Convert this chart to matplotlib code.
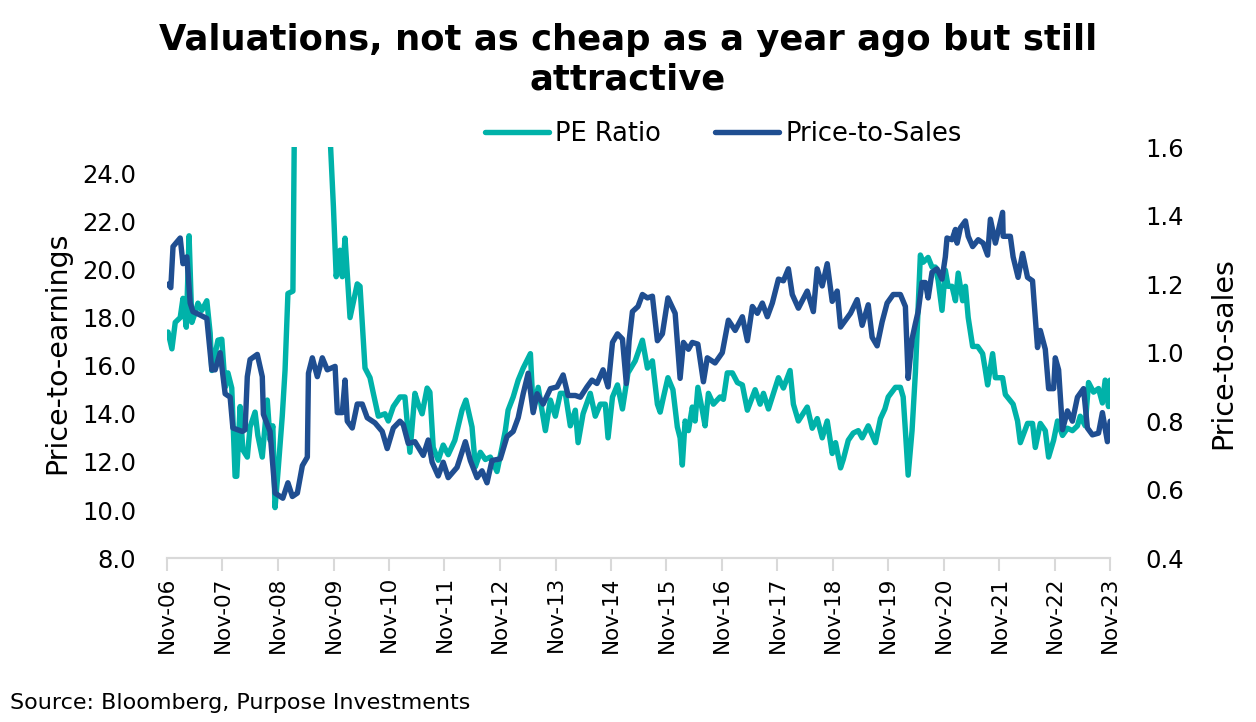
import matplotlib
matplotlib.use("Agg")
import matplotlib.pyplot as plt
import numpy as np
import pandas as pd

# PE ratio (left axis), dates as decimal years
pe_years = [2006.85, 2006.92, 2006.98, 2007.07, 2007.12, 2007.18, 2007.23, 2007.28, 2007.34, 2007.39,
            2007.46, 2007.55, 2007.61, 2007.64, 2007.75, 2007.82, 2007.88, 2007.93, 2008.00, 2008.06,
            2008.09, 2008.15, 2008.20, 2008.28, 2008.33, 2008.42, 2008.47, 2008.55, 2008.64, 2008.69,
            2008.74, 2008.78, 2008.83, 2008.91, 2008.96, 2009.01, 2009.10, 2009.18, 2009.41, 2009.61,
            2009.74, 2009.83, 2009.88, 2009.95, 2009.99, 2010.04, 2010.13, 2010.26, 2010.31, 2010.40,
            2010.49, 2010.55, 2010.64, 2010.76, 2010.82, 2010.91, 2011.03, 2011.12, 2011.21, 2011.30,
            2011.36, 2011.43, 2011.52, 2011.57, 2011.63, 2011.72, 2011.81, 2011.90, 2012.02, 2012.15,
            2012.22, 2012.33, 2012.39, 2012.48, 2012.57, 2012.66, 2012.78, 2012.87, 2012.93, 2012.98,
            2013.07, 2013.16, 2013.25, 2013.38, 2013.43, 2013.52, 2013.65, 2013.74, 2013.83, 2013.92,
            2014.01, 2014.10, 2014.19, 2014.24, 2014.33, 2014.46, 2014.55, 2014.64, 2014.73, 2014.78,
            2014.86, 2014.95, 2015.04, 2015.14, 2015.27, 2015.40, 2015.49, 2015.58, 2015.67, 2015.72,
            2015.78, 2015.86, 2015.95, 2016.03, 2016.08, 2016.12, 2016.17, 2016.23, 2016.30, 2016.35,
            2016.40, 2016.48, 2016.53, 2016.59, 2016.68, 2016.80, 2016.86, 2016.93, 2017.02, 2017.11,
            2017.20, 2017.29, 2017.38, 2017.43, 2017.52, 2017.58, 2017.67, 2017.76, 2017.85, 2017.94,
            2018.06, 2018.12, 2018.21, 2018.37, 2018.46, 2018.55, 2018.64, 2018.73, 2018.82, 2018.88,
            2018.97, 2019.02, 2019.11, 2019.20, 2019.29, 2019.36, 2019.47, 2019.60, 2019.69, 2019.77,
            2019.83, 2019.96, 2020.05, 2020.10, 2020.14, 2020.19, 2020.26, 2020.32, 2020.41, 2020.46,
            2020.55, 2020.62, 2020.68, 2020.73, 2020.80, 2020.86, 2020.91, 2020.98, 2021.04, 2021.09,
            2021.17, 2021.22, 2021.27, 2021.35, 2021.44, 2021.53, 2021.58, 2021.62, 2021.71, 2021.76,
            2021.89, 2021.94, 2022.08, 2022.16, 2022.21, 2022.34, 2022.43, 2022.48, 2022.57, 2022.66,
            2022.72, 2022.81, 2022.88, 2022.97, 2023.06, 2023.15, 2023.24, 2023.29, 2023.38, 2023.44,
            2023.53, 2023.62, 2023.69, 2023.74, 2023.80, 2023.83]
pe_values = [17.4, 16.7, 17.8, 18.0, 18.8, 17.6, 21.4, 17.8, 18.2, 18.6,
             18.3, 18.7, 17.35, 15.8, 17.06, 17.1, 15.1, 15.7, 15.07, 11.4,
             11.4, 14.3, 12.5, 12.2, 13.45, 14.07, 13.1, 12.2, 14.57, 12.9,
             13.5, 10.1, 11.5, 13.9, 15.8, 19.0, 19.1, 40.0, 90.0, 45.0,
             27.0, 22.6, 19.7, 20.8, 19.7, 21.3, 18.0, 19.4, 19.3, 15.9,
             15.5, 14.85, 13.9, 14.0, 13.7, 14.3, 14.7, 14.7, 12.4, 14.85,
             14.4, 14.0, 15.07, 14.9, 12.6, 12.07, 12.7, 12.3, 12.9, 14.15,
             14.57, 13.45, 11.8, 12.4, 12.1, 12.2, 11.6, 12.6, 13.3, 14.15,
             14.7, 15.4, 15.9, 16.5, 14.15, 15.1, 13.3, 14.57, 13.9, 14.85,
             14.85, 13.5, 14.15, 12.8, 14.0, 14.85, 13.9, 14.4, 14.4, 13.0,
             14.7, 15.2, 14.2, 15.7, 16.2, 17.06, 15.9, 16.2, 14.4, 14.07,
             14.7, 15.5, 15.0, 13.45, 13.0, 11.87, 13.7, 13.3, 14.28, 13.7,
             15.1, 14.15, 13.5, 14.85, 14.4, 14.7, 14.6, 15.7, 15.7, 15.3,
             15.2, 14.15, 14.7, 15.0, 14.4, 14.85, 14.2, 14.85, 15.5, 15.07,
             15.8, 14.4, 13.7, 14.28, 13.4, 13.8, 13.0, 13.7, 12.35, 12.8,
             11.75, 12.1, 12.9, 13.2, 13.3, 13.0, 13.5, 12.8, 13.8, 14.2,
             14.7, 15.1, 15.1, 14.7, 13.3, 11.45, 13.3, 15.7, 20.6, 20.3,
             20.5, 20.1, 20.1, 19.55, 18.3, 19.97, 19.3, 19.3, 18.7, 19.85,
             18.7, 19.3, 18.0, 16.8, 16.8, 16.5, 15.8, 15.2, 16.5, 15.5,
             15.5, 14.8, 14.4, 13.7, 12.8, 13.6, 13.6, 12.6, 13.6, 13.3,
             12.2, 12.9, 13.7, 13.1, 13.4, 13.3, 13.5, 13.9, 13.5, 15.3,
             14.9, 15.05, 14.45, 15.4, 14.3, 15.4]

# Price-to-sales (right axis)
ps_years = [2006.85, 2006.90, 2006.94, 2007.07, 2007.12, 2007.19, 2007.25, 2007.30, 2007.43, 2007.55,
            2007.64, 2007.70, 2007.79, 2007.88, 2007.97, 2008.02, 2008.19, 2008.24, 2008.28, 2008.33,
            2008.46, 2008.55, 2008.57, 2008.69, 2008.78, 2008.92, 2009.01, 2009.09, 2009.18, 2009.27,
            2009.36, 2009.38, 2009.45, 2009.54, 2009.63, 2009.72, 2009.86, 2009.90, 2009.99, 2010.04,
            2010.08, 2010.17, 2010.26, 2010.35, 2010.44, 2010.58, 2010.71, 2010.80, 2010.91, 2011.03,
            2011.09, 2011.18, 2011.30, 2011.45, 2011.54, 2011.61, 2011.72, 2011.81, 2011.90, 2012.06,
            2012.21, 2012.30, 2012.42, 2012.51, 2012.60, 2012.69, 2012.84, 2012.96, 2013.07, 2013.16,
            2013.25, 2013.34, 2013.43, 2013.50, 2013.61, 2013.74, 2013.86, 2013.97, 2014.06, 2014.19,
            2014.28, 2014.40, 2014.49, 2014.58, 2014.69, 2014.78, 2014.86, 2014.95, 2015.04, 2015.11,
            2015.16, 2015.22, 2015.32, 2015.40, 2015.49, 2015.58, 2015.67, 2015.76, 2015.86, 2015.99,
            2016.08, 2016.14, 2016.23, 2016.30, 2016.40, 2016.50, 2016.57, 2016.71, 2016.84, 2016.95,
            2017.07, 2017.20, 2017.29, 2017.38, 2017.47, 2017.56, 2017.65, 2017.74, 2017.85, 2017.94,
            2018.03, 2018.10, 2018.21, 2018.37, 2018.48, 2018.55, 2018.64, 2018.73, 2018.82, 2018.91,
            2018.97, 2019.06, 2019.15, 2019.27, 2019.36, 2019.47, 2019.54, 2019.63, 2019.72, 2019.81,
            2019.92, 2020.05, 2020.14, 2020.19, 2020.26, 2020.32, 2020.37, 2020.44, 2020.50, 2020.55,
            2020.62, 2020.71, 2020.80, 2020.86, 2020.89, 2020.98, 2021.04, 2021.07, 2021.13, 2021.22,
            2021.27, 2021.35, 2021.45, 2021.54, 2021.62, 2021.67, 2021.76, 2021.89, 2021.90, 2022.03,
            2022.08, 2022.17, 2022.25, 2022.34, 2022.43, 2022.52, 2022.57, 2022.66, 2022.72, 2022.81,
            2022.84, 2022.90, 2022.97, 2023.06, 2023.15, 2023.24, 2023.35, 2023.42, 2023.51, 2023.62,
            2023.69, 2023.78, 2023.83]
ps_values = [1.20, 1.19, 1.31, 1.335, 1.26, 1.28, 1.145, 1.12, 1.11, 1.10,
             0.95, 0.95, 1.00, 0.88, 0.87, 0.78, 0.77, 0.775, 0.93, 0.98,
             0.995, 0.93, 0.82, 0.77, 0.59, 0.575, 0.62, 0.58, 0.59, 0.67,
             0.695, 0.94, 0.985, 0.93, 0.985, 0.95, 0.96, 0.825, 0.825, 0.92,
             0.80, 0.78, 0.85, 0.85, 0.81, 0.795, 0.77, 0.72, 0.78, 0.80,
             0.79, 0.735, 0.74, 0.70, 0.745, 0.68, 0.64, 0.68, 0.635, 0.665,
             0.74, 0.685, 0.635, 0.655, 0.62, 0.685, 0.69, 0.755, 0.77, 0.81,
             0.88, 0.94, 0.825, 0.88, 0.85, 0.895, 0.90, 0.935, 0.875, 0.875,
             0.87, 0.90, 0.92, 0.91, 0.95, 0.90, 1.03, 1.055, 1.04, 0.91,
             1.035, 1.12, 1.135, 1.17, 1.16, 1.165, 1.035, 1.055, 1.16, 1.115,
             0.925, 1.03, 1.01, 1.03, 1.025, 0.915, 0.985, 0.97, 1.00, 1.095,
             1.065, 1.105, 1.035, 1.135, 1.115, 1.145, 1.105, 1.145, 1.215, 1.21,
             1.245, 1.17, 1.13, 1.18, 1.12, 1.245, 1.195, 1.26, 1.15, 1.18,
             1.075, 1.095, 1.115, 1.155, 1.08, 1.14, 1.045, 1.02, 1.09, 1.145,
             1.17, 1.17, 1.135, 0.925, 1.04, 1.085, 1.12, 1.205, 1.205, 1.16,
             1.235, 1.245, 1.215, 1.28, 1.335, 1.33, 1.36, 1.32, 1.365, 1.385,
             1.34, 1.31, 1.33, 1.32, 1.285, 1.39, 1.32, 1.41, 1.34, 1.34,
             1.28, 1.22, 1.29, 1.22, 1.21, 1.015, 1.065, 1.01, 0.895, 0.895,
             0.985, 0.95, 0.775, 0.83, 0.80, 0.87, 0.895, 0.78, 0.76, 0.765,
             0.825, 0.74, 0.80]

pe_ticks = [8, 10, 12, 14, 16, 18, 20, 22, 24]
ps_ticks = [0.4, 0.6, 0.8, 1.0, 1.2, 1.4, 1.6]
tick_years = list(range(2006, 2024))


def to_dates(years):
    years = np.asarray(years, dtype=float)
    starts = pd.to_datetime([f"{int(y)}-01-01" for y in years])
    frac = years - years.astype(int)
    return starts + pd.to_timedelta(frac * 365.25, unit="D")


TEAL = "#00B2A9"
NAVY = "#1F4E91"
plt.rcParams["font.family"] = "DejaVu Sans"

fig = plt.figure(figsize=(12.56, 7.22), dpi=100)
ax = fig.add_axes([0.133, 0.227, 0.751, 0.569])
ax2 = ax.twinx()

l1, = ax.plot(to_dates(pe_years), pe_values, color=TEAL, lw=3.9, label="PE Ratio",
              solid_joinstyle="round", solid_capstyle="round")
l2, = ax2.plot(to_dates(ps_years), ps_values, color=NAVY, lw=3.9, label="Price-to-Sales",
               solid_joinstyle="round", solid_capstyle="round")

ax.set_xlim(pd.Timestamp("2006-11-01"), pd.Timestamp("2023-11-01"))
ax.set_ylim(8, 25.08)
ax2.set_ylim(0.4, 1.6)
ax.set_yticks(pe_ticks)
ax.set_yticklabels([f"{v:.1f}" for v in pe_ticks])
ax2.set_yticks(ps_ticks)
ax2.set_yticklabels([f"{v:.1f}" for v in ps_ticks])

xt = [pd.Timestamp(f"{y}-11-01") for y in tick_years]
ax.set_xticks(xt)
ax.set_xticklabels([f"Nov-{y % 100:02d}" for y in tick_years], rotation=90)

for a in (ax, ax2):
    for s in ("top", "left", "right"):
        a.spines[s].set_visible(False)
    a.spines["bottom"].set_color("#D9D9D9")
    a.spines["bottom"].set_linewidth(1.5)
ax.tick_params(axis="x", colors="#D9D9D9", length=9, width=1.5, labelcolor="black",
               labelsize=15.5, pad=4)
ax.tick_params(axis="y", length=0, labelsize=17.5, pad=22)
ax2.tick_params(axis="y", length=0, labelsize=17.5, pad=25)

ax.set_ylabel("Price-to-earnings", fontsize=20.5, labelpad=8)
ax2.set_ylabel("Price-to-sales", fontsize=20.5, labelpad=18)

fig.text(0.5, 0.968, "Valuations, not as cheap as a year ago but still\nattractive",
         ha="center", va="top", fontsize=25.5, fontweight="bold", linespacing=1.2)

fig.legend(handles=[l1, l2], loc="center", bbox_to_anchor=(0.576, 0.815), ncol=2,
           frameon=False, fontsize=18.5, handlelength=2.5, columnspacing=2.1, handletextpad=0.25)

fig.text(0.008, 0.026, "Source: Bloomberg, Purpose Investments", fontsize=16, ha="left", va="center")

fig.savefig("out.png", dpi=100)
